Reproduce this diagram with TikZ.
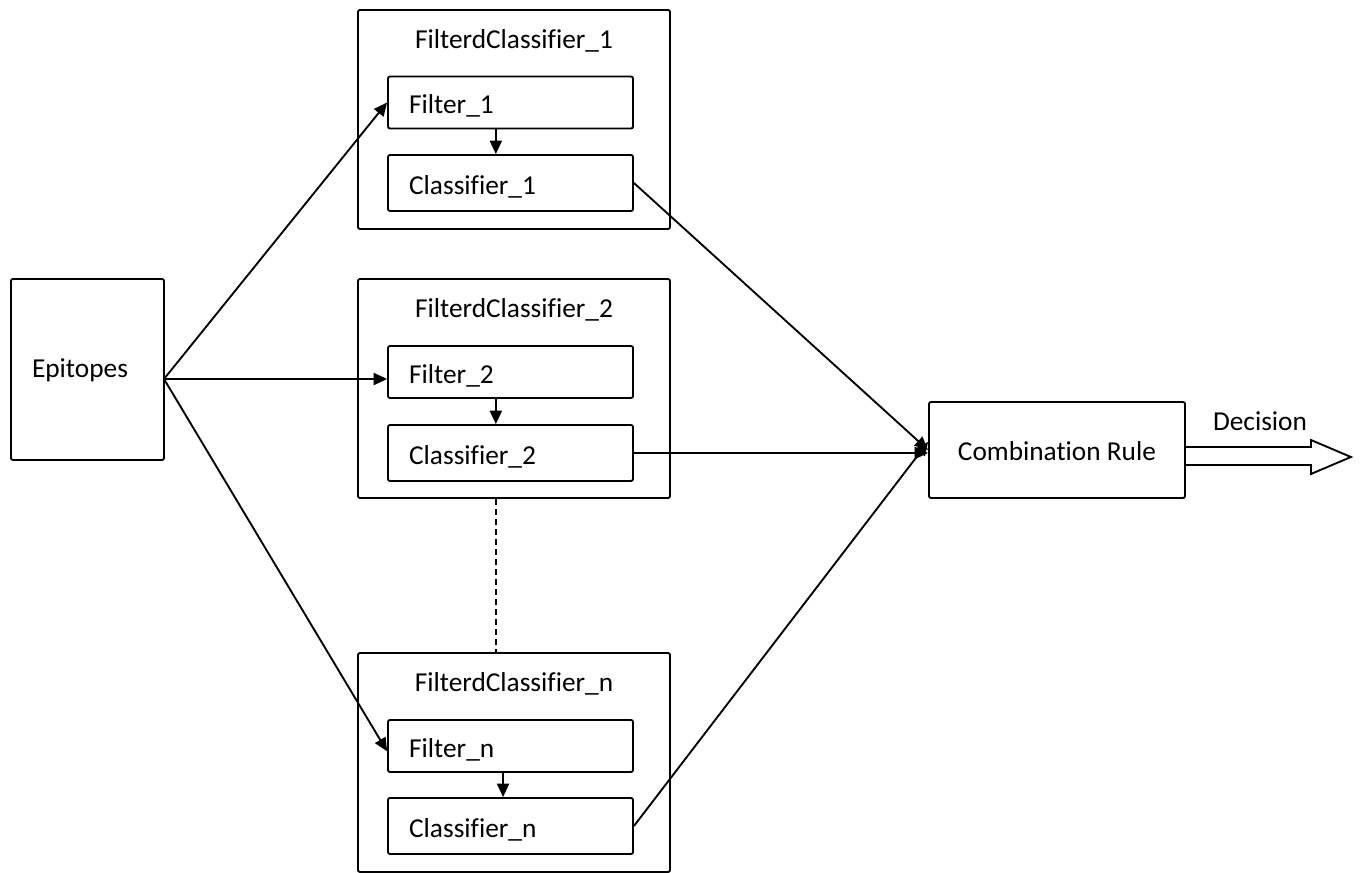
\documentclass[tikz,border=0pt]{standalone}
\usepackage{fontspec}
\setmainfont{Carlito}[Ligatures=NoCommon]
\usepackage{tikz}
\usetikzlibrary{calc,arrows.meta}

\begin{document}
\begin{tikzpicture}[x=0.75pt,y=0.75pt,yscale=-1,xscale=1,
  line width=1.4pt,
  every node/.style={font=\fontsize{20.5}{24}\selectfont},
  outerbox/.style={draw,rounded corners=1.5pt,minimum width=234pt,minimum height=164.25pt},
  innerbox/.style={draw,rounded corners=1.5pt,minimum width=183.75pt,inner xsep=15.75pt,text width=152pt,align=left,text height=17pt,text depth=0pt},
  flow/.style={-{Triangle[length=10pt,width=9pt]}},
  linkline/.style={-{Triangle[length=10pt,width=9pt]}}]
\useasboundingbox (0,0) rectangle (1363,873);
%Shape: Rectangle [Epitopes]
\node[draw,rounded corners=1.5pt,minimum width=114.75pt,minimum height=135.75pt] (ep) at (87.5,369.5) {};
\node (eptxt) at (80,370) {Epitopes};
%Shape: Rectangle [FilterdClassifier boxes]
\node[outerbox] (fc1) at (514,119.5) {};
\node[outerbox] (fc2) at (514,388.5) {};
\node[outerbox] (fcn) at (514,762.5) {};
% Text Node
\node (t1) at (514,41) {FilterdClassifier\_1};
\node (t2) at (514,310) {FilterdClassifier\_2};
\node (tn) at (514,684) {FilterdClassifier\_n};
%Shape: Rectangle [filters and classifiers]
\node[innerbox,minimum height=39pt] (f1) at (510.5,102.5) {Filter\_1};
\node[innerbox,minimum height=42pt] (c1) at (510.5,183) {Classifier\_1};
\node[innerbox,minimum height=39pt] (f2) at (510.5,372) {Filter\_2};
\node[innerbox,minimum height=42pt] (c2) at (510.5,453) {Classifier\_2};
\node[innerbox,minimum height=39pt] (fn) at (510.5,746) {Filter\_n};
\node[innerbox,minimum height=42pt] (cn) at (510.5,826) {Classifier\_n};
%Shape: Rectangle [Combination Rule]
\node[draw,rounded corners=1.5pt,minimum width=192pt,minimum height=72pt,text height=16pt,text depth=0pt] (comb) at (1057,450) {Combination Rule};
% Text Node
\node (dec) at (1260,421) {Decision};
%Straight Lines [input]
\coordinate (src) at (164,379);
\draw[flow] (src) -- (f1.west);
\draw[flow] (src) -- (src -| f2.west);
\draw[flow] (src) -- ([yshift=4pt]fn.west);
%Straight Lines [filter to classifier]
\draw[flow] ([xshift=-11pt]f1.south) -- ([xshift=-11pt]f1.south |- c1.north);
\draw[flow] ([xshift=-11pt]f2.south) -- ([xshift=-11pt]f2.south |- c2.north);
\draw[flow] ([xshift=-5.6pt]fn.south) -- ([xshift=-5.6pt]fn.south |- cn.north);
%Straight Lines [to combination]
\draw[linkline] (c1.east) -- (comb.west);
\draw[linkline] (c2.east) -- (c2.east -| comb.west);
\draw[linkline] (cn.east) -- ([yshift=-6pt]comb.west);
%Straight Lines [dots]
\draw[dash pattern={on 4.5pt off 3pt}] ([xshift=-13.5pt]fc2.south) -- ([xshift=-13.5pt]fcn.north);
%Shape: Arrow [Decision]
\draw (comb.east) ++(0,-3) -- ++(125,0) -- ++(0,-7) -- ++(40,17) -- ++(-40,17) -- ++(0,-9) -- ++(-125,0);
\end{tikzpicture}
\end{document}
